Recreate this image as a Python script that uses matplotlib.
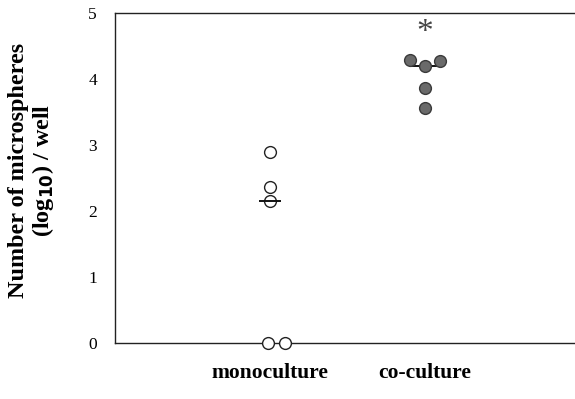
import numpy as np
import matplotlib.pyplot as plt

plt.rcParams['font.family'] = ['Liberation Serif', 'DejaVu Serif']

groups = ["monoculture", "co-culture"]
mono = [2.90, 2.37, 2.15, 0.0, 0.0]
cocult = [4.29, 4.28, 4.19, 3.86, 3.56]
yticks = [0, 1, 2, 3, 4, 5]

# horizontal offsets so overlapping dots stay visible
mono_dx = [0.0, 0.0, 0.0, -0.01, 0.095]
co_dx = [-0.097, 0.097, 0.0, 0.0, 0.0]

fig = plt.figure(figsize=(5.75, 3.99), dpi=100)
ax = fig.add_axes([115/575, 1 - 343/399, 460/575, 330/399])

ax.plot(1 + np.array(mono_dx), mono, 'o', ms=8.5, mfc='white', mec='#222222', mew=1.0,
        clip_on=False, zorder=3)
ax.plot(2 + np.array(co_dx), cocult, 'o', ms=8.5, mfc='#6a6a6a', mec='#3a3a3a', mew=1.0,
        clip_on=False, zorder=3)

ax.hlines(np.median(mono), 1 - 0.07, 1 + 0.07, color='#111111', lw=1.4, zorder=4)
ax.hlines(np.median(cocult), 2 - 0.09, 2 + 0.09, color='#111111', lw=1.4, zorder=2)

ax.text(2, 4.70, "*", ha='center', va='center', fontsize=24, color='#444444')

ax.set_xlim(0, 2.97)
ax.set_ylim(0, 5)
ax.set_yticks(yticks)
ax.set_yticklabels([str(t) for t in yticks], fontsize=12.5)
ax.set_xticks([])
ax.tick_params(axis='y', length=0, pad=13)

ax.spines['right'].set_visible(False)
for s in ['left', 'top', 'bottom']:
    ax.spines[s].set_linewidth(1.0)
    ax.spines[s].set_color('#222222')

for i, g in enumerate(groups):
    ax.text(i + 1, -0.45, g, ha='center', va='center', fontsize=15.5, fontweight='bold')

fig.text(32/575, 1 - 170/399, "Number of microspheres\n(log$_{\\mathbf{10}}$) / well",
         rotation=90, ha='center', va='center', fontsize=17.4, fontweight='bold',
         linespacing=1.05)

fig.savefig("out.png", dpi=100)
